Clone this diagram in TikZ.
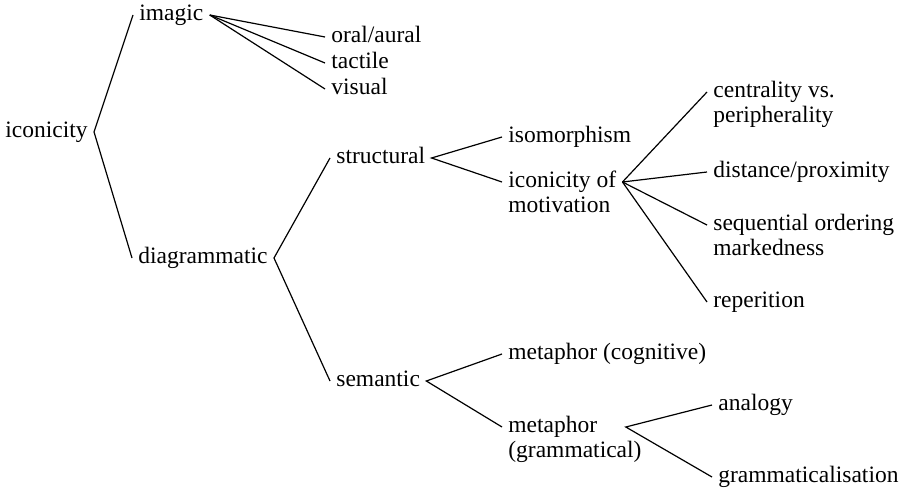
\documentclass[tikz,border=0pt]{standalone}
\usepackage{fontspec}
\setmainfont{Liberation Serif}
\usepackage{tikz}

\begin{document}
\begin{tikzpicture}[
    x=0.5pt, y=-0.5pt,
    term/.style={anchor=west, inner xsep=3pt, inner ysep=0pt, text height=7.7pt, text depth=2.3pt, font=\fontsize{11.75}{12.5}\selectfont},
    branch/.style={line width=0.6pt}
  ]
    \useasboundingbox (0,0) rectangle (904,492);

    % Root
    \node[term] (icon) at (-1, 132) {iconicity};

    % Imagic branch
    \node[term] (imagic) at (133, 15) {imagic};
    \node[term] (oral) at (325, 37) {oral/aural};
    \node[term] (tact) at (325, 63) {tactile};
    \node[term] (vis) at (325, 89) {visual};

    % Diagrammatic branch
    \node[term] (diag) at (132, 258) {diagrammatic};
    \node[term] (struc) at (330, 158) {structural};
    \node[term] (sem) at (330, 381) {semantic};

    % Structural (right)
    \node[term] (iso) at (502, 137) {isomorphism};
    \node[term] (iom) at (502, 182) {iconicity of};
    \node[term] (iom2) at ([yshift=-12.5pt]iom.west) {motivation};
    \node[term] (cent) at (707, 92) {centrality vs.};
    \node[term] (cent2) at ([yshift=-12.5pt]cent.west) {peripherality};
    \node[term] (dist) at (707, 172) {distance/proximity};
    \node[term] (seq) at (707, 225) {sequential ordering};
    \node[term] (seq2) at ([yshift=-12.5pt]seq.west) {markedness};
    \node[term] (rep) at (707, 302) {reperition};

    % Semantic (right)
    \node[term] (mcog) at (502, 354) {metaphor (cognitive)};
    \node[term, text width=55.5pt] (mgram) at (502, 427) {metaphor};
    \node[term] (mgram2) at ([yshift=-12.5pt]mgram.west) {(grammatical)};
    \node[term] (anal) at (712, 405) {analogy};
    \node[term] (gram) at (712, 477) {grammaticalisation};

    % Lines
    \draw[branch] (imagic.west) -- (icon.east) -- (diag.west);
    \draw[branch] (imagic.east) -- (oral.west);
    \draw[branch] (imagic.east) -- (tact.west);
    \draw[branch] (imagic.east) -- (vis.west);
    \draw[branch] (struc.west) -- (diag.east) -- (sem.west);
    \draw[branch] (iso.west) -- (struc.east) -- (iom.west);
    \draw[branch] (iom.east) -- (cent.west);
    \draw[branch] (iom.east) -- (dist.west);
    \draw[branch] (iom.east) -- (seq.west);
    \draw[branch] (iom.east) -- (rep.west);
    \draw[branch] (mcog.west) -- (sem.east) -- (mgram.west);
    \draw[branch] (anal.west) -- (mgram.east) -- (gram.west);
  \end{tikzpicture}
\end{document}
